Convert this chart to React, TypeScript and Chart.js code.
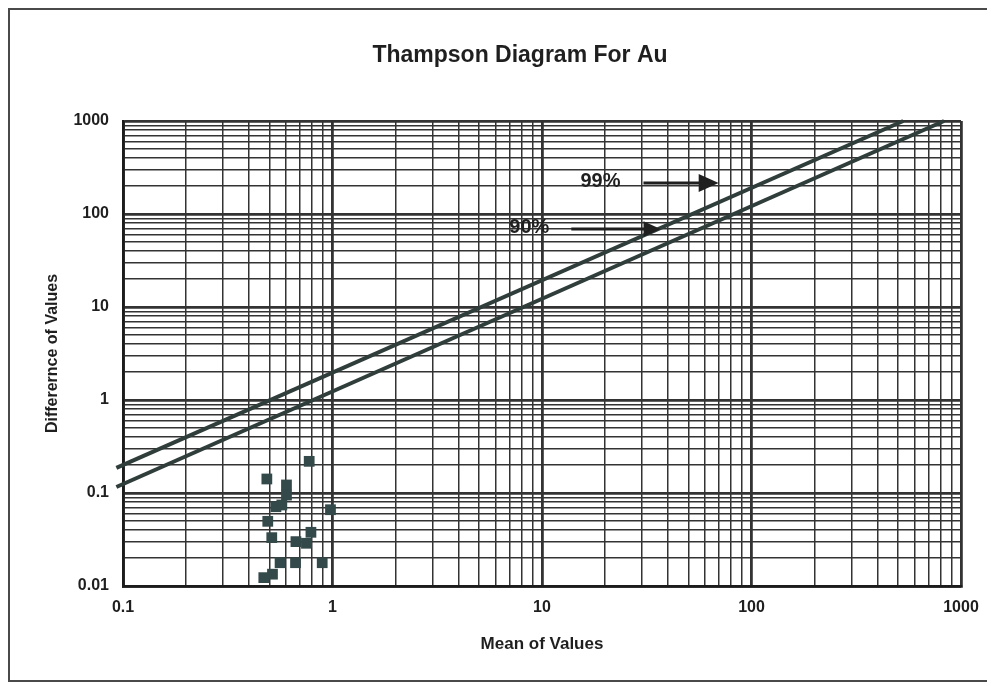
import { useEffect, useRef } from "react";
import { Chart, registerables } from "chart.js";

Chart.register(...registerables);

// Text
const chartTitle = "Thampson Diagram For Au";
const xAxisTitle = "Mean of Values";
const yAxisTitle = "Differernce of Values";

// Decade tick labels (log axes)
const xTickLabels = ["0.1", "1", "10", "100", "1000"];
const yTickLabels = ["0.01", "0.1", "1", "10", "100", "1000"];

// Duplicate-pair samples: mean vs absolute difference
const sampleMean = [0.774, 0.486, 0.603, 0.603, 0.537, 0.573, 0.978, 0.491, 0.513, 0.669, 0.751, 0.789, 0.562, 0.666, 0.893, 0.517, 0.47];
const sampleDiff = [0.219, 0.1415, 0.122, 0.095, 0.0712, 0.0743, 0.0661, 0.0496, 0.0331, 0.03, 0.0288, 0.0378, 0.0178, 0.0178, 0.0178, 0.0134, 0.0123];

// Control lines (99th and 90th percentile)
const line99Mean = [0.093, 530];
const line99Diff = [0.186, 1000];
const line90Mean = [0.093, 830];
const line90Diff = [0.116, 1000];

// Percentile call-outs with arrows pointing to the lines
const calloutText = ["99%", "90%"];
const calloutMean = [19, 8.7];
const calloutDiff = [226, 72.5];
const arrowFromMean = [30.5, 13.8];
const arrowToMean = [69.7, 36.8];
const arrowDiff = [215, 69];

const FONT = '"Liberation Sans", Arial, Helvetica, sans-serif';
const INK = "#1f1f1f";
const GRID = "#333333";
const LINE = "#2f3d3b";
const MARK = "#34494a";

function decadeTicks(labels: string[]): number[] {
  const decades = labels.map(Number);
  const out: number[] = [];
  for (let i = 0; i < decades.length - 1; i++) {
    for (let k = 1; k < 10; k++) out.push(Number((decades[i] * k).toPrecision(6)));
  }
  out.push(decades[decades.length - 1]);
  return out;
}

function labelFor(labels: string[], v: number): string {
  const hit = labels.find((l) => Math.abs(Number(l) - v) < Number(l) * 1e-6);
  return hit ?? "";
}

const calloutPlugin = {
  id: "calloutPlugin",
  afterDatasetsDraw(chart: any) {
    const { ctx } = chart;
    const xs = chart.scales.x;
    const ys = chart.scales.y;
    ctx.save();
    ctx.fillStyle = INK;
    ctx.strokeStyle = INK;
    ctx.textAlign = "center";
    ctx.textBaseline = "middle";
    ctx.font = `bold 20px ${FONT}`;
    calloutText.forEach((t, i) => {
      ctx.fillText(t, xs.getPixelForValue(calloutMean[i]), ys.getPixelForValue(calloutDiff[i]));
      const x0 = xs.getPixelForValue(arrowFromMean[i]);
      const x1 = xs.getPixelForValue(arrowToMean[i]);
      const yy = ys.getPixelForValue(arrowDiff[i]);
      const head = i === 0 ? 20 : 17;
      ctx.lineWidth = 3;
      ctx.beginPath();
      ctx.moveTo(x0, yy);
      ctx.lineTo(x1 - head + 2, yy);
      ctx.stroke();
      ctx.beginPath();
      ctx.moveTo(x1, yy);
      ctx.lineTo(x1 - head, yy - head * 0.45);
      ctx.lineTo(x1 - head, yy + head * 0.45);
      ctx.closePath();
      ctx.fill();
    });
    ctx.font = `bold 23px ${FONT}`;
    ctx.fillText(chartTitle, 510, 46);
    ctx.restore();
  },
};

export default function App() {
  const canvasRef = useRef<HTMLCanvasElement | null>(null);

  useEffect(() => {
    if (!canvasRef.current) return;
    const xTicks = decadeTicks(xTickLabels);
    const yTicks = decadeTicks(yTickLabels);

    const gridWidth = (labels: string[]) => (c: any) =>
      c.tick && labelFor(labels, c.tick.value) ? 2.8 : 1.5;

    const chart = new Chart(canvasRef.current, {
      type: "scatter",
      data: {
        datasets: [
          {
            label: "99%",
            type: "line",
            data: line99Mean.map((m, i) => ({ x: m, y: line99Diff[i] })),
            borderColor: LINE,
            borderWidth: 4,
            pointRadius: 0,
            clip: false as any,
          },
          {
            label: "90%",
            type: "line",
            data: line90Mean.map((m, i) => ({ x: m, y: line90Diff[i] })),
            borderColor: LINE,
            borderWidth: 4,
            pointRadius: 0,
            clip: false as any,
          },
          {
            label: "Samples",
            data: sampleMean.map((m, i) => ({ x: m, y: sampleDiff[i] })),
            pointStyle: "rect",
            pointRadius: 7.6,
            pointHoverRadius: 7.6,
            backgroundColor: MARK,
            borderWidth: 0,
          },
        ],
      },
      options: {
        responsive: false,
        animation: false,
        layout: { padding: { top: 111, right: 27, left: 0, bottom: 0 } },
        plugins: {
          legend: { display: false },
          title: { display: false },
          tooltip: { enabled: false },
        },
        scales: {
          x: {
            type: "logarithmic",
            min: 0.1,
            max: 1000,
            afterBuildTicks: (s: any) => {
              s.ticks = xTicks.map((v) => ({ value: v, major: !!labelFor(xTickLabels, v) }));
            },
            afterFit: (s: any) => {
              s.height = 94;
              s.paddingLeft = 0;
              s.paddingRight = 0;
            },
            ticks: {
              autoSkip: false,
              maxRotation: 0,
              padding: 12,
              color: INK,
              font: { family: FONT, size: 16, weight: "bold" },
              callback: (v: any) => labelFor(xTickLabels, Number(v)),
            },
            grid: { color: GRID, lineWidth: gridWidth(xTickLabels), drawTicks: false },
            border: { display: true, color: "#1c1c1c", width: 2.8 },
            title: {
              display: true,
              text: xAxisTitle,
              color: INK,
              font: { family: FONT, size: 17, weight: "bold" },
              padding: { top: 0, bottom: 25 },
            },
          },
          y: {
            type: "logarithmic",
            min: 0.01,
            max: 1000,
            afterBuildTicks: (s: any) => {
              s.ticks = yTicks.map((v) => ({ value: v, major: !!labelFor(yTickLabels, v) }));
            },
            afterFit: (s: any) => {
              s.width = 113;
              s.paddingTop = 0;
              s.paddingBottom = 0;
            },
            ticks: {
              autoSkip: false,
              padding: 14,
              color: INK,
              font: { family: FONT, size: 16, weight: "bold" },
              callback: (v: any) => labelFor(yTickLabels, Number(v)),
            },
            grid: { color: GRID, lineWidth: gridWidth(yTickLabels), drawTicks: false },
            border: { display: true, color: "#1c1c1c", width: 2.8 },
            title: {
              display: true,
              text: yAxisTitle,
              color: INK,
              font: { family: FONT, size: 16, weight: "bold" },
              padding: { top: 33, bottom: 0 },
            },
          },
        },
      },
      plugins: [calloutPlugin],
    } as any);

    return () => chart.destroy();
  }, []);

  return (
    <div
      style={{
        boxSizing: "border-box",
        width: 982,
        height: 674,
        border: "2px solid #4a4a4a",
        background: "#fff",
      }}
    >
      <canvas ref={canvasRef} width={978} height={670} style={{ display: "block" }} />
    </div>
  );
}
